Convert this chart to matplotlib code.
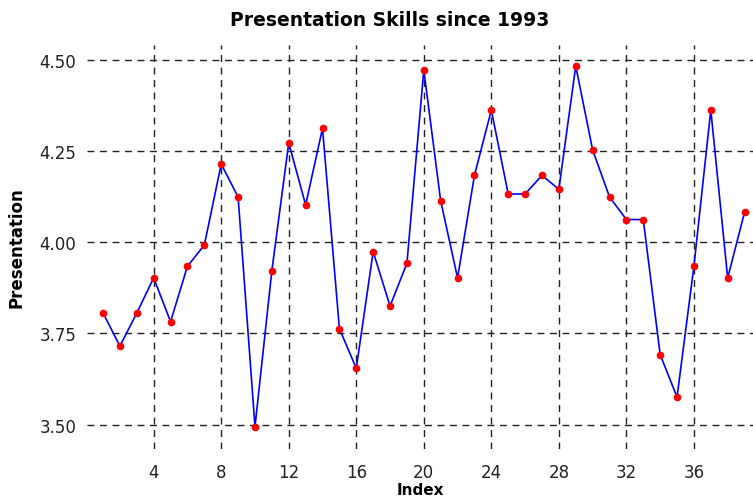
import matplotlib.pyplot as plt

# Данные: оценка навыков презентации по индексу
index = list(range(1, 40))
presentation = [3.806, 3.715, 3.806, 3.902, 3.782, 3.934, 3.992, 4.214, 4.124, 3.494,
                3.922, 4.272, 4.102, 4.312, 3.763, 3.654, 3.974, 3.825, 3.942, 4.472,
                4.113, 3.902, 4.183, 4.362, 4.132, 4.132, 4.183, 4.145, 4.483, 4.253,
                4.124, 4.062, 4.062, 3.692, 3.575, 3.934, 4.362, 3.902, 4.082]
x_ticks = [4, 8, 12, 16, 20, 24, 28, 32, 36]
y_ticks = [3.50, 3.75, 4.00, 4.25, 4.50]

fig = plt.figure(figsize=(7.53, 5.02), dpi=100)
ax = fig.add_axes([0.116, 0.1036, 0.884, 0.8044])

ax.plot(index, presentation, color='blue', linewidth=1.2, zorder=3)
ax.plot(index, presentation, 'o', color='red', markersize=4.5, zorder=4)

ax.set_xlim(0.07, 39.5)
ax.set_ylim(3.433, 4.54)
ax.set_xticks(x_ticks)
ax.set_yticks(y_ticks)
ax.set_yticklabels([f'{v:.2f}' for v in y_ticks])
ax.tick_params(length=0, labelsize=12, colors='#222222')
ax.tick_params(axis='x', pad=10)
ax.tick_params(axis='y', pad=8)

ax.grid(True, color='#222222', linestyle=(0, (5, 4)), linewidth=1.0)
for s in ax.spines.values():
    s.set_visible(False)

ax.set_xlabel('Index', fontsize=11, fontweight='bold', labelpad=1)
ax.set_ylabel('Presentation', fontsize=12, fontweight='bold', labelpad=10)
fig.suptitle('Presentation Skills since 1993', x=0.518, y=0.978,
             fontsize=13.5, fontweight='bold')

plt.savefig('out.png')
